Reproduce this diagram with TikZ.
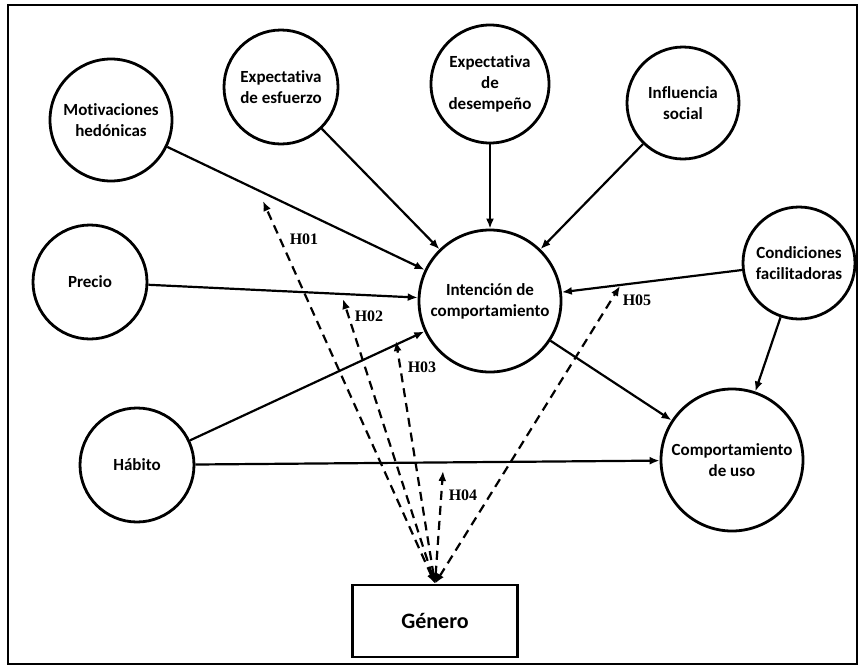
\documentclass[tikz,border=0pt]{standalone}
\usepackage{fontspec}
\setmainfont{Carlito}[Ligatures=NoCommon]
\newfontfamily\hypfont{Liberation Serif}
\usetikzlibrary{arrows.meta}

\tikzset{
  construct/.style={circle, draw, line width=2.8pt, align=center, inner sep=0pt,
    font=\bfseries\fontsize{17}{21}\selectfont},
  link/.style={line width=2.2pt, -{Latex[length=10pt, width=8pt]}},
  hyp/.style={line width=2.2pt, dash pattern=on 9pt off 6pt,
    {Latex[length=10pt, width=8pt]}-{Latex[length=10pt, width=8pt]}},
  hlabel/.style={font=\hypfont\bfseries\fontsize{16}{16}\selectfont, inner sep=1pt}
}

\begin{document}
\begin{tikzpicture}[x=1pt, y=-1pt]
    \useasboundingbox (0,0) rectangle (860,667);
    \draw[line width=2.6pt] (8,5) rectangle (857,664);

    % constructs
    \node[construct, minimum size=122pt] (mot) at (111,120) {Motivaciones\\hed\'onicas};
    \node[construct, minimum size=114pt] (esf) at (281,87)  {Expectativa\\de esfuerzo};
    \node[construct, minimum size=118pt] (des) at (490,84)  {Expectativa\\de\\desempe\~no};
    \node[construct, minimum size=112pt] (inf) at (683,103) {Influencia\\social};
    \node[construct, minimum size=114pt] (pre) at (90,282)  {Precio};
    \node[construct, minimum size=142pt] (int) at (490,301) {Intenci\'on de\\comportamiento};
    \node[construct, minimum size=112pt] (con) at (799,263) {Condiciones\\facilitadoras};
    \node[construct, minimum size=114pt] (hab) at (137,465) {H\'abito};
    \node[construct, minimum size=142pt] (com) at (732,460) {Comportamiento\\de uso};
    \node[draw, line width=2.6pt, minimum width=165pt, minimum height=72pt,
      font=\bfseries\fontsize{22}{24}\selectfont] (gen) at (435,621) {G\'enero};

    % moderation points
    \coordinate (h1) at (263,201);
    \coordinate (h2) at (343,299);
    \coordinate (h3) at (396,341);
    \coordinate (h4) at (443,471);
    \coordinate (h5) at (620,286);

    \path[link]
      (mot) edge (int)
      (esf) edge (int)
      (des) edge (int)
      (inf) edge (int)
      (pre) edge (int)
      (hab) edge (int)
            edge (com)
      (con) edge (int)
            edge (com)
      (int) edge (com);

    \path[hyp]
      (gen.north) edge (h1)
                  edge (h2)
                  edge (h3)
                  edge (h4)
                  edge (h5);

    \node[hlabel] (l1) at (304,239) {H01};
    \node[hlabel] (l2) at (369,316) {H02};
    \node[hlabel] (l3) at (422,367) {H03};
    \node[hlabel] (l4) at (463,495) {H04};
    \node[hlabel] (l5) at (637,300) {H05};
\end{tikzpicture}
\end{document}
